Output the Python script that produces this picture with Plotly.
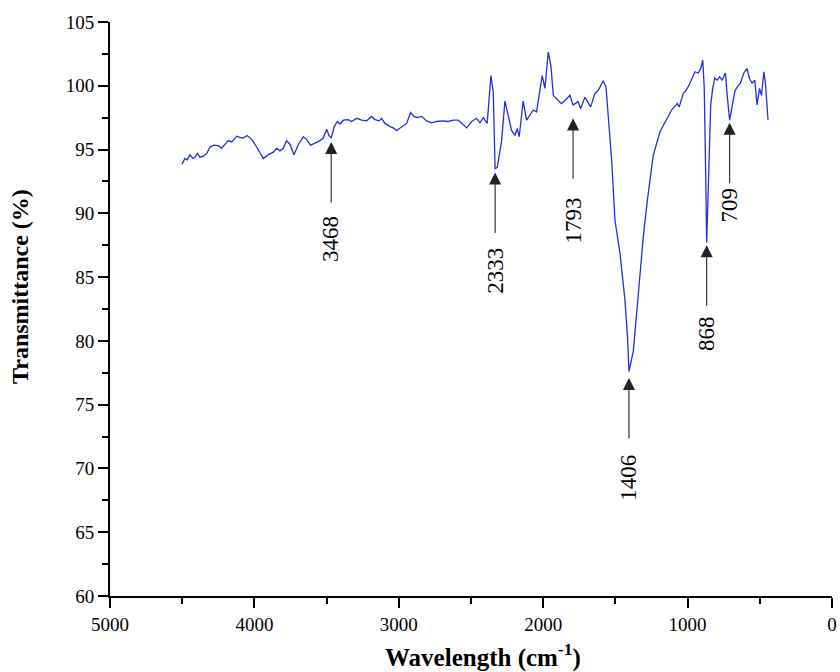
import plotly.graph_objects as go

# FTIR spectrum (wavenumber cm-1, transmittance %)
wavenumber = [
    4501, 4481, 4465, 4446, 4427, 4411, 4395, 4377, 4349, 4330, 4307, 4279, 4250, 4227,
    4197, 4181, 4158, 4123, 4100, 4077, 4050, 4019, 3984, 3938, 3904, 3869, 3846, 3823,
    3800, 3777, 3753, 3726, 3696, 3661, 3639, 3611, 3581, 3546, 3523, 3500, 3484, 3468,
    3447, 3426, 3407, 3384, 3350, 3327, 3292, 3257, 3223, 3188, 3165, 3135, 3119, 3096,
    3061, 3038, 3015, 2981, 2946, 2918, 2895, 2873, 2842, 2808, 2773, 2738, 2693, 2658,
    2623, 2588, 2530, 2495, 2461, 2438, 2415, 2388, 2362, 2346, 2333, 2318, 2288, 2265,
    2242, 2219, 2196, 2180, 2166, 2139, 2115, 2092, 2069, 2046, 2028, 2007, 1988, 1965,
    1946, 1930, 1896, 1873, 1849, 1815, 1793, 1757, 1741, 1711, 1671, 1642, 1619, 1584,
    1565, 1549, 1526, 1503, 1468, 1434, 1416, 1406, 1390, 1376, 1341, 1307, 1279, 1238,
    1191, 1145, 1111, 1072, 1058, 1030, 1007, 984, 949, 926, 909, 895, 885, 876, 868,
    858, 850, 840, 826, 812, 795, 779, 761, 738, 727, 709, 692, 673, 657, 634, 611, 588,
    571, 553, 535, 519, 502, 488, 472, 461, 443,
]
transmittance = [
    93.86, 94.3, 94.2, 94.6, 94.3, 94.4, 94.7, 94.4, 94.5, 94.7, 95.2, 95.35, 95.3, 95.1,
    95.5, 95.7, 95.6, 96.05, 95.95, 95.9, 96.1, 95.8, 95.2, 94.3, 94.6, 94.8, 95.1, 94.9,
    95.1, 95.7, 95.4, 94.6, 95.4, 96.0, 95.8, 95.35, 95.5, 95.7, 95.9, 96.6, 96.1, 95.9,
    96.8, 97.2, 97.0, 97.3, 97.35, 97.2, 97.45, 97.3, 97.25, 97.6, 97.35, 97.25, 97.45, 97.05,
    96.8, 96.7, 96.5, 96.8, 97.05, 97.9, 97.6, 97.5, 97.6, 97.25, 97.1, 97.2, 97.25, 97.2,
    97.3, 97.3, 96.7, 97.2, 97.45, 97.1, 97.5, 97.05, 100.8, 99.5, 93.5, 93.6, 95.7, 98.8,
    97.6, 96.5, 96.1, 96.65, 96.0, 98.8, 97.3, 97.7, 98.1, 97.95, 99.4, 100.8, 99.8, 102.65,
    101.5, 99.25, 98.85, 98.6, 98.85, 99.25, 98.5, 98.75, 98.2, 99.1, 98.35, 99.4, 99.65, 100.4,
    99.9, 97.6, 94.2, 89.45, 86.85, 83.2, 80.3, 77.6, 78.4, 79.2, 83.7, 88.15, 91.0, 94.55,
    96.4, 97.45, 98.1, 98.6, 98.35, 99.4, 99.7, 100.2, 101.1, 101.0, 101.35, 102.0, 99.9, 94.0, 87.7,
    91.5, 95.5, 98.5, 99.8, 100.6, 100.45, 100.7, 100.45, 101.0, 99.4, 97.3, 98.35, 99.55, 99.9, 100.2, 101.0, 101.35,
    100.55, 100.2, 100.45, 98.5, 99.8, 99.25, 101.1, 100.2, 97.3,
]

# Peak labels: wavenumber, arrow tip value, label offset below tip (px)
peak_labels = ["3468", "2333", "1793", "1406", "868", "709"]
peak_x = [3468, 2333, 1793, 1406, 868, 709]
peak_tip = [95.6, 93.2, 97.45, 77.1, 87.5, 97.1]
label_shift = [97, 98, 102, 100, 88, 82]

X_TITLE = "<b>Wavelength (cm<sup>-1</sup>)</b>"
Y_TITLE = "<b>Transmittance (%)</b>"

FONT = "Liberation Serif, Times New Roman, serif"

fig = go.Figure()
fig.add_trace(go.Scatter(
    x=wavenumber, y=transmittance, mode="lines",
    line=dict(color="rgb(35,45,225)", width=1.3),
    showlegend=False, hoverinfo="skip",
))

for lab, px_, ty, sh in zip(peak_labels, peak_x, peak_tip, label_shift):
    fig.add_annotation(
        x=px_, y=ty, xref="x", yref="y", text="", showarrow=True,
        ax=0, ay=62, arrowhead=2, arrowsize=2.2, arrowwidth=1.1,
        arrowcolor="#222222", standoff=0,
    )
    fig.add_annotation(
        x=px_, y=ty, xref="x", yref="y", text=lab, showarrow=False,
        textangle=-90, yshift=-sh, xanchor="center", yanchor="middle",
        font=dict(family=FONT, size=23, color="black"),
    )

# axis titles
fig.add_annotation(
    x=0.5, y=0, xref="paper", yref="paper", text=X_TITLE, showarrow=False,
    xanchor="center", yanchor="middle", xshift=12, yshift=-59,
    font=dict(family=FONT, size=25, color="black"),
)
fig.add_annotation(
    x=0, y=0.5, xref="paper", yref="paper", text=Y_TITLE, showarrow=False,
    textangle=-90, xanchor="center", yanchor="middle", xshift=-90, yshift=22,
    font=dict(family=FONT, size=24, color="black"),
)

fig.update_layout(
    width=840, height=672,
    margin=dict(l=110, r=8, t=22, b=76, autoexpand=False),
    paper_bgcolor="white", plot_bgcolor="white",
    font=dict(family=FONT, size=19, color="black"),
    xaxis=dict(
        range=[5000, 0], tick0=0, dtick=1000, automargin=False,
        showline=True, linecolor="black", linewidth=2,
        ticks="outside", ticklen=10, tickwidth=2, tickcolor="black",
        minor=dict(dtick=500, ticks="outside", ticklen=6, tickwidth=1.5, tickcolor="black"),
        showgrid=False, zeroline=False,
        tickfont=dict(family=FONT, size=19, color="black"),
    ),
    yaxis=dict(
        range=[60, 105], tick0=60, dtick=5, automargin=False,
        showline=True, linecolor="black", linewidth=2,
        ticks="outside", ticklen=10, tickwidth=2, tickcolor="black",
        minor=dict(dtick=2.5, ticks="outside", ticklen=6, tickwidth=1.5, tickcolor="black"),
        showgrid=False, zeroline=False,
        tickfont=dict(family=FONT, size=19, color="black"),
    ),
)

# remove the page's default 8px body margin so the figure fills the window exactly
fig.write_html(
    "out.html",
    config={"displayModeBar": False},
    post_script="document.body.style.margin='0';",
)
